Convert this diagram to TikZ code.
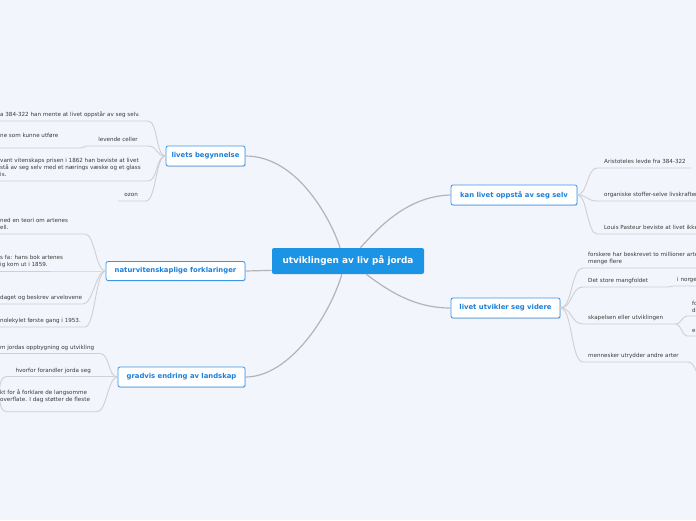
\documentclass[tikz,border=0pt]{standalone}
\usepackage{fontspec}
\setmainfont{DejaVu Sans}
\usetikzlibrary{shadows}
\definecolor{bgc}{HTML}{F3F5FC}
\definecolor{hub}{HTML}{1C94E6}
\definecolor{topicblue}{HTML}{1A7FDA}
\definecolor{topicborder}{HTML}{3A96E8}
\definecolor{mainline}{HTML}{B3B4BA}
\definecolor{subline}{HTML}{CFD0D6}
\definecolor{txt}{HTML}{3A3A3A}
\newcommand{\ld}{\rule[-1.5pt]{0pt}{0pt}}
\tikzset{
  hubnode/.style={fill=hub, rounded corners=2pt, text=white,
    font=\fontsize{8.9}{10}\selectfont\bfseries,
    minimum width=152pt, minimum height=26pt, inner sep=0pt},
  topic/.style={fill=white, draw=topicborder, line width=0.8pt, rounded corners=2pt,
    text=topicblue, font=\fontsize{6.85}{8}\selectfont\bfseries,
    minimum height=20pt, inner sep=0pt,
    drop shadow={shadow xshift=0.6pt, shadow yshift=-0.9pt, opacity=0.3, fill=black!50}},
  leaf/.style={font=\fontsize{5.6}{6.8}\selectfont, text=txt, inner sep=0pt, align=left},
  mainlink/.style={draw=mainline, line width=1.2pt},
  sublink/.style={draw=subline, line width=0.9pt},
}
\begin{document}
\begin{tikzpicture}[x=1pt,y=-1pt]
\fill[bgc] (0,0) rectangle (696,520);
\useasboundingbox (0,0) rectangle (696,520);

% main nodes
\node[hubnode] (hub) at (348,261) {utviklingen av liv på jorda};
\node[topic, minimum width=79pt] (livets) at (205.5,156) {livets begynnelse};
\node[topic, minimum width=139pt, minimum height=19pt] (natur) at (175.5,271) {naturvitenskaplige forklaringer};
\node[topic, minimum width=127pt] (gradvis) at (181.5,377) {gradvis endring av landskap};
\node[topic, minimum width=126pt] (kan) at (514,195) {kan livet oppstå av seg selv};
\node[topic, minimum width=109pt] (utv) at (505.5,308) {livet utvikler seg videre};

% main connectors
\draw[mainlink] (hub.121.6) .. controls (333,225) and (300,156) .. (livets.east);
\draw[mainlink] (hub.47.3) .. controls (375,232) and (405,196) .. (kan.west);
\draw[mainlink] (hub.245.2) .. controls (330,315) and (290,377) .. (gradvis.east);
\draw[mainlink] (hub.324.2) .. controls (390,292) and (415,308) .. (utv.west);
\draw[mainlink] (hub.187.1) -- (natur.east);

% underline end points
\coordinate (a1e) at (148,121);   \coordinate (a1w) at (0,121);
\coordinate (a2e) at (148,146);   \coordinate (a2w) at (87,146);
\coordinate (a2ce) at (80,148);   \coordinate (a2cw) at (0,148);
\coordinate (a3e) at (148,181);   \coordinate (a3w) at (0,181);
\coordinate (a4e) at (146,201);   \coordinate (a4w) at (118,201);
\coordinate (b1e) at (85,234);    \coordinate (b1w) at (0,234);
\coordinate (b2e) at (100,271);   \coordinate (b2w) at (0,271);
\coordinate (b3e) at (83,304);    \coordinate (b3w) at (0,304);
\coordinate (b4e) at (85,327);    \coordinate (b4w) at (0,327);
\coordinate (c1e) at (100,353.5); \coordinate (c1w) at (0,353.5);
\coordinate (c2e) at (112,376.5); \coordinate (c2w) at (6,376.5);
\coordinate (c3e) at (97,411.7);  \coordinate (c3w) at (6,411.7);
\coordinate (d1w) at (597,168);   \coordinate (d1e) at (691,168);
\coordinate (d2w) at (597,201);   \coordinate (d2e) at (696,201);
\coordinate (d3w) at (597,234);   \coordinate (d3e) at (696,234);
\coordinate (e1w) at (583,268);   \coordinate (e1e) at (696,268);
\coordinate (e2w) at (583,287);   \coordinate (e2e) at (668,287);
\coordinate (e2aw) at (673,286);  \coordinate (e2ae) at (696,286);
\coordinate (e3w) at (583,324);   \coordinate (e3e) at (676,324);
\coordinate (e3aw) at (687,316);  \coordinate (e3ae) at (696,316);
\coordinate (e3bw) at (687,336);  \coordinate (e3be) at (696,336);
\coordinate (e4w) at (583,362);   \coordinate (e4e) at (688,362);
\coordinate (e4x) at (696,371);

% sub connectors left
\draw[sublink] (livets.west) .. controls +(-10,0) and +(10,0) .. (a1e) -- (a1w);
\draw[sublink] (livets.west) .. controls +(-10,0) and +(10,0) .. (a2e) -- (a2w)
   .. controls +(-4,0) and +(4,0) .. (a2ce) -- (a2cw);
\draw[sublink] (livets.west) .. controls +(-10,0) and +(10,0) .. (a3e) -- (a3w);
\draw[sublink] (livets.west) .. controls +(-10,0) and +(10,0) .. (a4e) -- (a4w);
\draw[sublink] (natur.west) .. controls +(-10,0) and +(10,0) .. (b1e) -- (b1w);
\draw[sublink] (natur.west) .. controls +(-3,0) and +(3,0) .. (b2e) -- (b2w);
\draw[sublink] (natur.west) .. controls +(-10,0) and +(10,0) .. (b3e) -- (b3w);
\draw[sublink] (natur.west) .. controls +(-10,0) and +(10,0) .. (b4e) -- (b4w);
\draw[sublink] (gradvis.west) .. controls +(-10,0) and +(10,0) .. (c1e) -- (c1w);
\draw[sublink] (gradvis.west) .. controls +(-3,0) and +(3,0) .. (c2e) -- (c2w)
   .. controls (-3,376.5) and (-3,411.7) .. (c3w);
\draw[sublink] (gradvis.west) .. controls +(-10,0) and +(10,0) .. (c3e) -- (c3w);
% sub connectors right
\draw[sublink] (kan.east) .. controls +(10,0) and +(-10,0) .. (d1w) -- (d1e);
\draw[sublink] (kan.east) .. controls +(10,0) and +(-10,0) .. (d2w) -- (d2e);
\draw[sublink] (kan.east) .. controls +(10,0) and +(-10,0) .. (d3w) -- (d3e);
\draw[sublink] (utv.east) .. controls +(12,0) and +(-12,0) .. (e1w) -- (e1e);
\draw[sublink] (utv.east) .. controls +(12,0) and +(-12,0) .. (e2w) -- (e2e)
   .. controls +(3,0) and +(-3,0) .. (e2aw) -- (e2ae);
\draw[sublink] (utv.east) .. controls +(12,0) and +(-12,0) .. (e3w) -- (e3e)
   .. controls +(5,0) and +(-5,0) .. (e3aw) -- (e3ae);
\draw[sublink] (e3e) .. controls +(5,0) and +(-5,0) .. (e3bw) -- (e3be);
\draw[sublink] (utv.east) .. controls +(12,0) and +(-12,0) .. (e4w) -- (e4e)
   .. controls (692,362) and (694,366) .. (e4x);

% leaf texts
\begin{scope}
\clip (0,0) rectangle (696,520);
\node[leaf, anchor=south west] (ta1) at (0,118.6) {a 384-322 han mente at livet oppstår av seg selv.\ld};
\node[leaf, anchor=south east] (ta2) at (138,143.3) {levende celler\ld};
\node[leaf, anchor=south west] (ta2c) at (0,139) {ne som kunne utføre\ld};
\node[leaf, anchor=south west] (ta3) at (0,178.2) {vant vitenskaps prisen i 1862 han beviste at livet\\stå av seg selv med et nærings væske og et glass\\is.\ld};
\node[leaf, anchor=south east] (ta4) at (138,198.3) {ozon\ld};
\node[leaf, anchor=south west] (tb1) at (0,231.3) {ned en teori om artenes\\ell.\ld};
\node[leaf, anchor=south west] (tb2) at (0,268.3) {s fa: hans bok artenes\\ig kom ut i 1859.\ld};
\node[leaf, anchor=south west] (tb3) at (0,301.3) {daget og beskrev arvelovene\ld};
\node[leaf, anchor=south west] (tb4) at (0,324.3) {nolekylet første gang i 1953.\ld};
\node[leaf, anchor=south west] (tc1) at (0,350.8) {m jordas oppbygning og utvikling\ld};
\node[leaf, anchor=south east] (tc2) at (91,373.8) {hvorfor forandler jorda seg\ld};
\node[leaf, anchor=south west] (tc3) at (0,403) {kt for å forklare de langsomme\\overflate. I dag støtter de fleste\ld};
\node[leaf, anchor=south west] (td1) at (604,165.3) {Aristoteles levde fra 384-322\ld};
\node[leaf, anchor=south west] (td2) at (604,198.3) {organiske stoffer-selve livskraften\ld};
\node[leaf, anchor=south west] (td3) at (604,231.3) {Louis Pasteur beviste at livet ikke\ld};
\node[leaf, anchor=south west] (te1) at (588,265.3) {forskere har beskrevet to millioner arter\\menge flere\ld};
\node[leaf, anchor=south west] (te2) at (588,284.3) {Det store mangfoldet\ld};
\node[leaf, anchor=south west] (te2a) at (677,283.3) {i norge\ld};
\node[leaf, anchor=south west] (te3) at (588,321.3) {skapelsen eller utviklingen\ld};
\node[leaf, anchor=south west] (te3a) at (692,313.7) {fo\\di\ld};
\node[leaf, anchor=south west] (te3b) at (692,334) {e\ld};
\node[leaf, anchor=south west] (te4) at (588,359.3) {mennesker utrydder andre arter\ld};
\end{scope}
\end{tikzpicture}
\end{document}
